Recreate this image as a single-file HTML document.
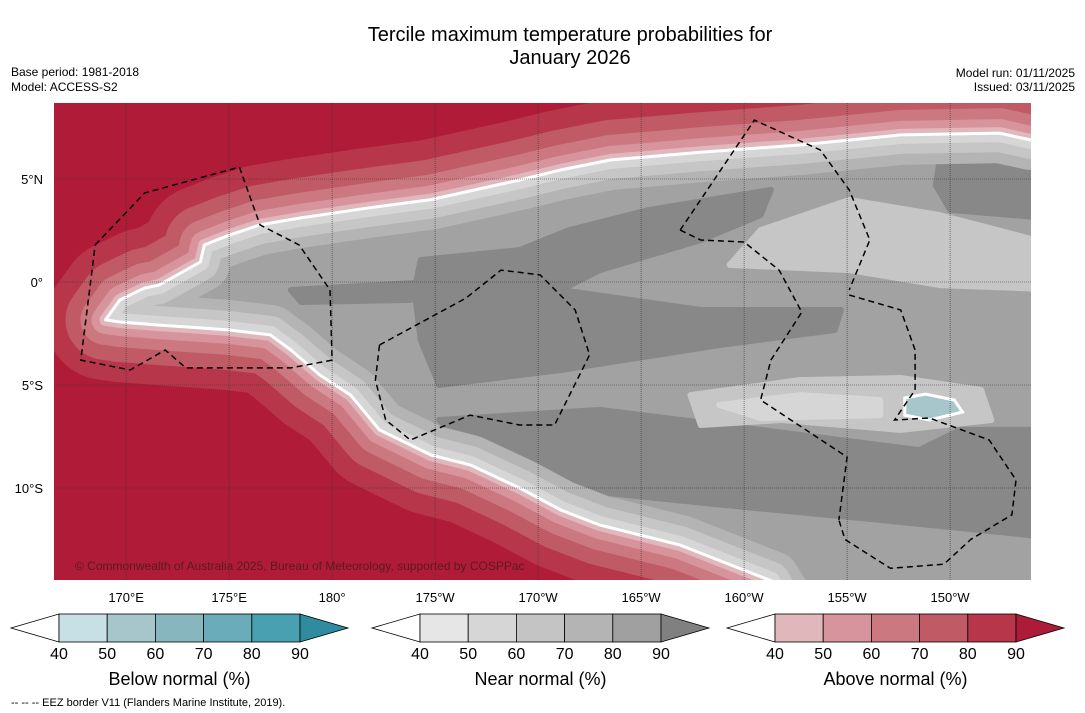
<!DOCTYPE html>
<html><head><meta charset="utf-8"><style>
body{margin:0;background:#fff;width:1085px;height:713px;overflow:hidden;font-family:"Liberation Sans","DejaVu Sans",sans-serif}
svg{position:absolute;left:0;top:0}
</style></head><body>
<svg id="c" width="1085" height="713" font-family="Liberation Sans, DejaVu Sans, sans-serif">
<text x="570" y="41" text-anchor="middle" font-size="20">Tercile maximum temperature probabilities for</text>
<text x="570" y="64" text-anchor="middle" font-size="20">January 2026</text>
<text x="11" y="76" font-size="12">Base period: 1981-2018</text>
<text x="11" y="91" font-size="12">Model: ACCESS-S2</text>
<text x="1075" y="77" font-size="12" text-anchor="end">Model run: 01/11/2025</text>
<text x="1075" y="91" font-size="12" text-anchor="end">Issued: 03/11/2025</text>
<defs>
<clipPath id="mapclip"><rect x="54" y="103" width="977" height="477"/></clipPath>
<clipPath id="wedgeclip"><polygon id="wclip"/></clipPath>
</defs>
<g id="map" clip-path="url(#mapclip)"></g>
<g id="axes"></g>
<g id="legend"></g>
<text x="11" y="706" font-size="11">--  --  -- EEZ border V11 (Flanders Marine Institute, 2019).</text>
</svg>
<script>
const wedge=[[169.0,-1.84],[169.7,-0.87],[170.9,-0.29],[171.6,-0.15],[173.6,0.97],[173.8,1.8],[175.0,2.27],[176.5,2.77],[178.4,3.1],[181.8,3.6],[184.8,4.0],[189.1,4.95],[191.1,5.44],[193.5,5.92],[197.9,6.3],[202.7,6.65],[207.6,7.14],[212.4,7.23],[213.9,6.9],[218,6.9],[218,-19],[204,-19],[201.3,-14.5],[196.9,-12.77],[193.0,-11.8],[191.1,-11.07],[189.1,-10.0],[186.7,-8.88],[184.8,-8.4],[182.3,-7.18],[180.9,-5.49],[179.4,-4.51],[178.0,-3.3],[177.0,-2.57],[175.0,-2.33],[173.6,-2.23],[171.6,-2.09],[169.7,-1.94]];
const darkCentral=[[184.3,1.07],[189.1,1.55],[191.5,2.52],[195.4,3.5],[201.3,4.47],[200.8,3.25],[197.9,2.04],[193.0,0.58],[191.1,-0.39],[197.9,-1.36],[204.7,-1.36],[204.4,-2.33],[198.8,-3.06],[191.1,-4.27],[185.2,-5.0],[184.3,-2.82],[184.0,-0.39]];
const darkTopRight=[[209.5,5.92],[216,6.2],[216,3.0],[210.0,3.5],[209.3,4.7]];
const darkLower=[[185.2,-6.7],[193.0,-6.21],[200.8,-7.18],[208.5,-8.16],[210.5,-7.18],[216,-7.18],[216,-12.5],[206.6,-11.55],[198.8,-10.8],[192.0,-10.1],[186.7,-8.16]];
const darkLeft=[[178.0,-0.39],[184.0,-0.05],[183.8,-0.87],[178.5,-0.97]];
const lightUpper=[[200.8,2.52],[205.1,3.98],[209.5,3.25],[216,1.55],[216,-0.39],[209.5,-0.15],[205.1,0.58],[199.3,0.83]];
const lightLower=[[197.4,-5.49],[202.7,-4.76],[207.6,-4.66],[211.5,-5.24],[212.0,-6.7],[207.6,-7.18],[201.8,-6.7],[197.9,-6.94]];
const lighterLower=[[198.8,-5.97],[202.7,-5.49],[206.6,-5.73],[206.6,-6.46],[200.8,-6.6]];
const blueSpot=[[207.8,-5.63],[208.8,-5.44],[210.2,-5.73],[210.6,-6.31],[209.0,-6.7],[207.8,-6.46]];
const eezGilbert=[[168.5,1.8],[170.9,4.32],[175.5,5.58],[176.5,2.77],[178.4,1.8],[179.9,-0.39],[180.0,-3.79],[178.0,-4.17],[172.9,-4.17],[171.9,-3.3],[170.2,-4.27],[167.8,-3.79],[168.5,1.8]];
const eezPhoenix=[[182.3,-3.06],[186.5,-0.78],[188.2,0.58],[190.1,0.34],[191.8,-1.36],[192.5,-3.54],[190.8,-6.94],[189.1,-6.94],[186.7,-6.46],[183.8,-7.67],[182.6,-6.7],[182.1,-4.76],[182.3,-3.06]];
const eezLineA=[[196.9,2.52],[200.5,7.86],[203.7,6.41],[205.1,4.47],[206.1,2.04],[205.1,-0.39]];
const eezLineB=[[205.1,-0.63],[207.6,-1.36],[208.3,-3.3],[208.3,-5.24],[207.3,-6.7],[209.0,-6.6],[211.9,-7.67],[213.2,-9.61],[213.0,-11.3],[211.0,-12.5],[209.7,-13.7],[207.1,-13.9],[204.9,-12.5],[204.6,-11.55]];
const eezLineC=[[196.9,2.52],[197.9,2.04],[200.0,1.94],[201.7,0.58],[202.8,-1.46],[201.3,-3.79],[200.8,-5.73],[205.0,-8.5],[204.6,-11.55]];
const lonTicks=[170,175,180,185,190,195,200,205,210];
const lonLabels=["170°E","175°E","180°","175°W","170°W","165°W","160°W","155°W","150°W"];
const latTicks=[5,0,-5,-10];
const latLabels=["5°N","0°","5°S","10°S"];
const legendTicks=["40","50","60","70","80","90"];
const belowColors=["#c6e0e6","#a6c6cc","#88b6be","#6aacba","#48a0b0","#2f8c9e"];
const nearColors=["#e6e6e6","#d6d6d6","#c4c4c4","#b4b4b4","#a0a0a0","#808080"];
const aboveColors=["#e0b8bc","#d8949c","#cc7880","#c05a64","#b8364a","#ac1c38"];
const legendTitles=["Below normal (%)","Near normal (%)","Above normal (%)"];

const NS="http://www.w3.org/2000/svg";
const X=lon=>54+(lon-166.5)*20.6;
const Y=lat=>282-lat*20.6;
const pts=a=>a.map(p=>X(p[0]).toFixed(1)+","+Y(p[1]).toFixed(1)).join(" ");
function mk(tag,attrs,parent){const e=document.createElementNS(NS,tag);for(const k in attrs)e.setAttribute(k,attrs[k]);parent.appendChild(e);return e;}
const map=document.getElementById('map');
let e;
e=mk('rect',{x:54,y:103,width:977,height:477,fill:'#b01c38'},map);


const redStrokes=[[120,'#b8364a'],[80,'#c05a64'],[50,'#cc7880'],[28,'#d8949c'],[12,'#e0b8bc']];
redStrokes.forEach(s=>{e=mk('polygon',{points:pts(wedge),fill:'none',stroke:s[1],'stroke-width':s[0],'stroke-linejoin':'round'},map);

});
document.getElementById('wclip').setAttribute('points',pts(wedge));
const g=mk('g',{'clip-path':'url(#wedgeclip)'},map);
e=mk('polygon',{points:pts(wedge),fill:'#a2a2a2'},g);


[[darkCentral,'#888888'],[darkTopRight,'#888888'],[darkLower,'#888888'],[darkLeft,'#888888'],[lightUpper,'#c6c6c6'],[lightLower,'#c6c6c6'],[lighterLower,'#d6d6d6']].forEach(d=>{
e=mk('polygon',{points:pts(d[0]),fill:d[1],'stroke':d[1],'stroke-width':6,'stroke-linejoin':'round'},g);

});
[[60,'#b4b4b4'],[38,'#c6c6c6'],[18,'#d6d6d6']].forEach(s=>{e=mk('polygon',{points:pts(wedge),fill:'none',stroke:s[1],'stroke-width':s[0],'stroke-linejoin':'round'},g);

});
e=mk('polygon',{points:pts(blueSpot),fill:'#a6c6cc',stroke:'#fff','stroke-width':3},map);


e=mk('polygon',{points:pts(wedge),fill:'none',stroke:'#fff','stroke-width':3,'stroke-linejoin':'round'},map);


lonTicks.forEach(l=>{e=mk('line',{x1:X(l),x2:X(l),y1:103,y2:580,stroke:'#333','stroke-width':0.6,'stroke-dasharray':'1,1'},map);

});
latTicks.forEach(l=>{e=mk('line',{x1:54,x2:1031,y1:Y(l),y2:Y(l),stroke:'#333','stroke-width':0.6,'stroke-dasharray':'1,1'},map);

});
[eezGilbert,eezPhoenix,eezLineA,eezLineB,eezLineC].forEach(d=>{e=mk('polyline',{points:pts(d),fill:'none',stroke:'#000','stroke-width':1.5,'stroke-dasharray':'6,4'},map);

});
e=mk('text',{x:75,y:570,'font-size':12,fill:'#5a1a20'},map);e.textContent='© Commonwealth of Australia 2025, Bureau of Meteorology, supported by COSPPac';


const axes=document.getElementById('axes');
lonTicks.forEach((l,i)=>{e=mk('text',{x:X(l),y:602,'font-size':13,'text-anchor':'middle'},axes);e.textContent=lonLabels[i];

});
latTicks.forEach((l,i)=>{e=mk('text',{x:43,y:Y(l)+5,'font-size':13,'text-anchor':'end'},axes);e.textContent=latLabels[i];

});
const leg=document.getElementById('legend');
const bars=[[11,belowColors],[372,nearColors],[727,aboveColors]];
bars.forEach((b,bi)=>{const x0=b[0]+48,w=48.2,y0=614,h=28;
e=mk('polygon',{points:`${b[0]},${y0+h/2} ${x0},${y0} ${x0},${y0+h}`,fill:'#fff',stroke:'#000','stroke-width':0.8},leg);


for(let i=0;i<5;i++){e=mk('rect',{x:x0+i*w,y:y0,width:w,height:h,fill:b[1][i],stroke:'#000','stroke-width':0.8},leg);

}
const xe=x0+5*w;
e=mk('polygon',{points:`${xe},${y0} ${xe+48},${y0+h/2} ${xe},${y0+h}`,fill:b[1][5],stroke:'#000','stroke-width':0.8},leg);


legendTicks.forEach((t,i)=>{e=mk('text',{x:x0+i*w,y:659,'font-size':16,'text-anchor':'middle'},leg);e.textContent=t;

});
e=mk('text',{x:x0+2.5*w,y:685,'font-size':18,'text-anchor':'middle'},leg);e.textContent=legendTitles[bi];

});
</script>
</body></html>
